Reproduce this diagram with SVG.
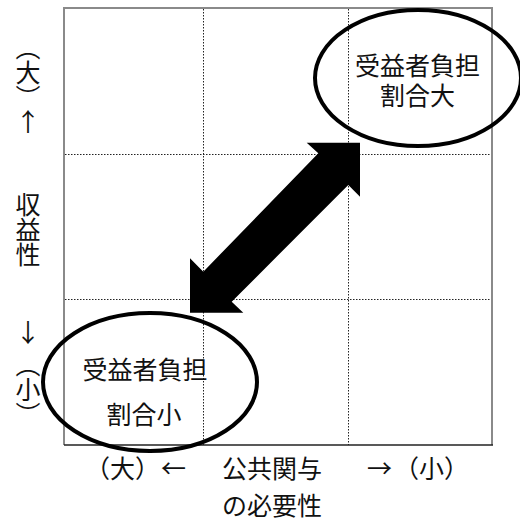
<svg xmlns="http://www.w3.org/2000/svg" width="520" height="528" viewBox="0 0 520 528">
  <style>
    .t { font-family: "Noto Sans CJK JP", "Noto Sans CJK SC", sans-serif; font-size: 25px; fill: #111; }
    .v { writing-mode: vertical-rl; }
    .grid { stroke: #222; stroke-width: 1; stroke-dasharray: 1.5 1.5; fill: none; }
    .oval { fill: none; stroke: #000; stroke-width: 4; }
  </style>
  <rect width="520" height="528" fill="#fff"/>
  <g id="frame">
    <path d="M64 445 V8 H492 V445" fill="none" stroke="#8a8a8a" stroke-width="2"/>
    <line x1="64" y1="445" x2="493" y2="445" stroke="#222" stroke-width="1.5"/>
    <line class="grid" x1="203.5" y1="9" x2="203.5" y2="445"/>
    <line class="grid" x1="348.5" y1="9" x2="348.5" y2="445"/>
    <line class="grid" x1="65" y1="154.5" x2="491" y2="154.5"/>
    <line class="grid" x1="65" y1="299.5" x2="491" y2="299.5"/>
  </g>
  <g id="connectors">
    <polygon points="360,142.7 360,196.7 348.3,185 231.7,301.7 243.3,312.7 190,312.7 190,258.3 203.3,271.7 318.3,153.3 306.7,142.7" fill="#000"/>
  </g>
  <g id="node-high">
    <ellipse class="oval" cx="418" cy="78" rx="103" ry="68"/>
    <text class="t" x="417.5" y="75" text-anchor="middle">受益者負担</text>
    <text class="t" x="417.5" y="105" text-anchor="middle">割合大</text>
  </g>
  <g id="node-low">
    <ellipse class="oval" cx="150" cy="382" rx="107" ry="69"/>
    <text class="t" x="145" y="379" text-anchor="middle">受益者負担</text>
    <text class="t" x="144" y="424" text-anchor="middle">割合小</text>
  </g>
  <g id="axis-y">
    <text class="t v" x="28" y="35" font-size="24">（大）</text>
    <text class="t" x="28" y="131" text-anchor="middle" font-size="24">↑</text>
    <text class="t v" x="28" y="192" font-size="24">収益性</text>
    <text class="t" x="28" y="342" text-anchor="middle" font-size="24">↓</text>
    <text class="t v" x="28" y="352" font-size="24">（小）</text>
  </g>
  <g id="axis-x">
    <text class="t" y="478"><tspan x="85">（大）</tspan><tspan x="161">←</tspan><tspan x="222">公共関与</tspan><tspan x="367">→</tspan><tspan x="394">（小）</tspan></text>
    <text class="t" x="222" y="515">の必要性</text>
  </g>
</svg>
